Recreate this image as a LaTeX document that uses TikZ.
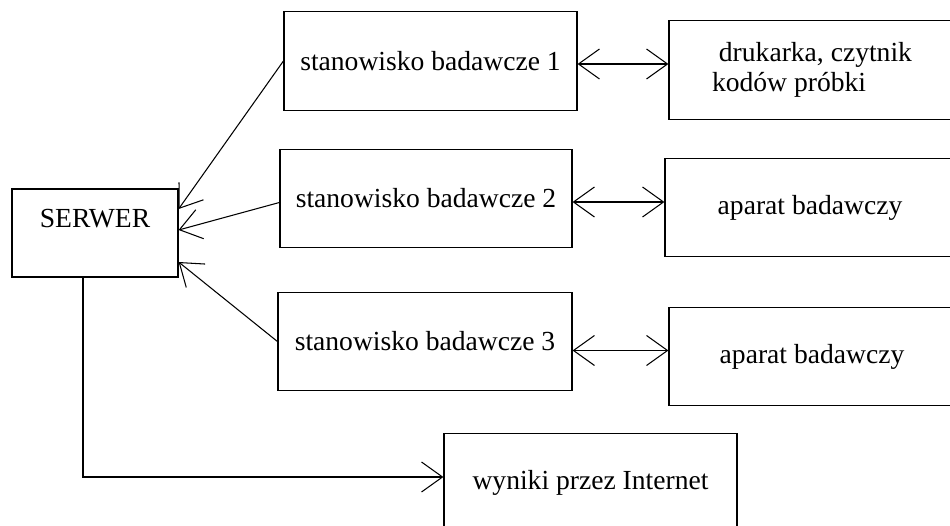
\documentclass[tikz,border=0pt]{standalone}
\usepackage{fontspec}
\setmainfont{Liberation Serif}
\usetikzlibrary{arrows.meta}

\tikzset{
  box/.style={draw, line width=0.7pt, minimum width=5.86cm, minimum height=1.97cm, inner sep=0pt},
  link/.style={line width=0.6pt},
}

\begin{document}
\begin{tikzpicture}[x=0.02cm, y=-0.02cm, font=\fontsize{15.7}{17}\selectfont,
    >={Straight Barb[length=4.2mm,width=6mm]}]
		\useasboundingbox (0,0) rectangle (950,526);
		\clip (0,0) rectangle (950,526);
			\node[box, minimum width=3.32cm, minimum height=1.76cm, text height=0.7em, text depth=1.35em] (srv) at (95,233) {SERWER};
			\node[box] (st1) at (430.5,61) {stanowisko badawcze 1};
			\node[box, minimum width=5.84cm] (st2) at (426,198.5) {stanowisko badawcze 2};
			\node[box, minimum width=5.88cm] (st3) at (425,341.5) {stanowisko badawcze 3};
			\node[box, minimum width=5.72cm, align=left] (dev1) at (812,70) {\ drukarka, czytnik\\kodów próbki};
			\node[box, minimum width=5.8cm] (dev2) at (810,207.5) {aparat badawczy};
			\node[box, minimum width=5.72cm] (dev3) at (812,356.5) {aparat badawczy};
			\node[box] (net) at (590.5,482.5) {wyniki przez Internet};
			% stanowiska -> serwer
			\draw[link,->] (st1.west) -- ([yshift=0.48cm]srv.east);
			\draw[link,->] ([yshift=-0.08cm]st2.west) -- ([yshift=0.06cm]srv.east);
			\draw[link,->] (st3.west) -- ([yshift=-0.58cm]srv.east);
			% stanowiska <-> urzadzenia
			\draw[link,<->] ([yshift=-0.06cm]st1.east) -- ([yshift=-0.06cm]st1.east -| dev1.west);
			\draw[link,<->] ([yshift=-0.07cm]st2.east) -- ([yshift=-0.07cm]st2.east -| dev2.west);
			\draw[link,<->] ([yshift=-0.18cm]st3.east) -- ([yshift=-0.18cm]st3.east -| dev3.west);
			% serwer -> internet
			\draw[link,->] ([xshift=-0.24cm]srv.south) |- ([yshift=0.11cm]net.west);
	\end{tikzpicture}
\end{document}
